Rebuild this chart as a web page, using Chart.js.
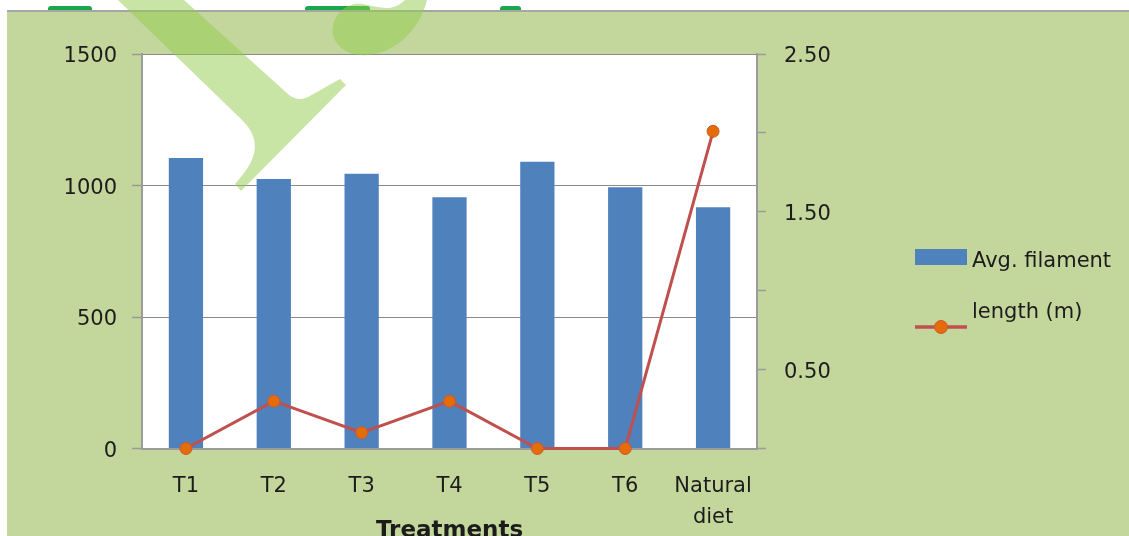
<!DOCTYPE html>
<html>
<head>
<meta charset="utf-8">
<script src="https://cdn.jsdelivr.net/npm/chart.js@4.4.1/dist/chart.umd.min.js"></script>
<style>
  html, body { margin: 0; padding: 0; background: #ffffff; overflow: hidden; }
  canvas { display: block; }
</style>
</head>
<body>
<canvas id="chart" width="1129" height="536"></canvas>
<script>
// ---- data ----
const categories = ['T1', 'T2', 'T3', 'T4', 'T5', 'T6', ['Natural', 'diet']];
const avgFilament = [1105, 1025, 1045, 955, 1090, 993, 917];
const filamentLength = [0, 0.30, 0.10, 0.30, 0, 0, 2.01];
const leftTicks = [0, 500, 1000, 1500];
const rightTickLabels = [0.5, 1.5, 2.5];
const seriesNames = ['Avg. filament', 'length (m)'];
const axisTitle = 'Treatments';

// ---- style ----
const FONT = 'DejaVu Sans';
const TEXT = '#1c1c1c';
const AXIS = '#9b9b9b';
const GRID = '#8a8a8a';
const PANEL = '#c3d69b';
const BAR = '#4f81bd';
const LINE = '#c0504d';
const MARKER = '#e46c0a';

// page frame, green panel and white plot area
const framePlugin = {
  id: 'frame',
  beforeDraw(chart) {
    const { ctx, width: W, height: H, chartArea: a } = chart;
    ctx.save();
    ctx.fillStyle = '#ffffff';
    ctx.fillRect(0, 0, W, H);
    // green highlight marks of the caption line above the panel
    ctx.fillStyle = '#1aa64a';
    [[48, 92], [305, 370], [500, 521]].forEach(([x0, x1]) => {
      ctx.beginPath();
      ctx.roundRect(x0, 6, x1 - x0, 6, [3, 3, 0, 0]);
      ctx.fill();
    });
    ctx.fillStyle = PANEL;
    ctx.fillRect(7, 12, W - 7, H - 12);
    ctx.fillStyle = '#a6a6a6';
    ctx.fillRect(7, 10, W - 7, 2);
    ctx.fillStyle = '#ffffff';
    ctx.fillRect(a.left, a.top, a.width, a.height);
    ctx.restore();
  }
};

// legend at the right of the panel
const legendPlugin = {
  id: 'sideLegend',
  afterDraw(chart) {
    const ctx = chart.ctx;
    const bars = chart.data.datasets[0];
    const line = chart.data.datasets[1];
    ctx.save();
    ctx.fillStyle = bars.backgroundColor;
    ctx.fillRect(915, 249, 52, 16);
    ctx.font = `21px "${FONT}"`;
    ctx.fillStyle = TEXT;
    ctx.textBaseline = 'alphabetic';
    ctx.textAlign = 'left';
    ctx.fillText(bars.label, 972, 267);
    ctx.fillText(line.label, 972, 318);
    ctx.strokeStyle = line.borderColor;
    ctx.lineWidth = 3.5;
    ctx.beginPath();
    ctx.moveTo(915, 327);
    ctx.lineTo(967, 327);
    ctx.stroke();
    ctx.beginPath();
    ctx.arc(941, 327, 6.5, 0, Math.PI * 2);
    ctx.fillStyle = line.pointBackgroundColor;
    ctx.fill();
    ctx.lineWidth = 1;
    ctx.strokeStyle = line.pointBorderColor;
    ctx.stroke();
    ctx.restore();
  }
};

// translucent publisher mark over the upper left of the page
const markPlugin = {
  id: 'pageMark',
  afterDraw(chart) {
    const ctx = chart.ctx;
    ctx.save();
    ctx.fillStyle = 'rgba(146, 204, 78, 0.5)';
    ctx.beginPath();
    ctx.moveTo(118, 0);
    ctx.lineTo(184, 0);
    ctx.lineTo(289, 95);
    ctx.quadraticCurveTo(298, 102, 308, 97);
    ctx.lineTo(340, 79);
    ctx.lineTo(346, 85);
    ctx.lineTo(241, 191);
    ctx.lineTo(235, 184);
    ctx.bezierCurveTo(254, 163, 266, 142, 240, 118);
    ctx.closePath();
    ctx.fill();
    ctx.beginPath();
    ctx.moveTo(405, 0);
    ctx.lineTo(427, 0);
    ctx.bezierCurveTo(420, 28, 398, 52, 368, 55);
    ctx.bezierCurveTo(345, 57, 330, 42, 333, 26);
    ctx.bezierCurveTo(336, 10, 350, 2, 363, 4);
    ctx.bezierCurveTo(378, 7, 392, 13, 405, 0);
    ctx.closePath();
    ctx.fill();
    ctx.restore();
  }
};

const tickFont = { family: FONT, size: 21, lineHeight: 1.5 };

new Chart(document.getElementById('chart'), {
  data: {
    labels: categories,
    datasets: [
      {
        type: 'bar',
        label: seriesNames[0],
        data: avgFilament,
        yAxisID: 'y',
        backgroundColor: BAR,
        borderWidth: 0,
        barPercentage: 0.39,
        categoryPercentage: 1,
        order: 2
      },
      {
        type: 'line',
        label: seriesNames[1],
        data: filamentLength,
        yAxisID: 'y2',
        borderColor: LINE,
        borderWidth: 3,
        tension: 0,
        pointRadius: 6,
        pointBackgroundColor: MARKER,
        pointBorderColor: '#cc5a2a',
        pointBorderWidth: 1,
        clip: false,
        order: 1
      }
    ]
  },
  options: {
    responsive: false,
    animation: false,
    events: [],
    layout: { padding: { top: 54, left: 0, right: 0, bottom: 0 } },
    plugins: { legend: { display: false }, tooltip: { enabled: false } },
    scales: {
      x: {
        grid: { display: false, drawTicks: false },
        border: { display: true, color: AXIS, width: 2 },
        ticks: { font: tickFont, color: TEXT, padding: 22, maxRotation: 0, autoSkip: false },
        title: {
          display: true,
          text: axisTitle,
          color: TEXT,
          font: { family: FONT, size: 23, weight: 'bold', lineHeight: 1.2 },
          padding: { top: 0, bottom: -9 }
        },
        afterFit(s) { s.height = 87.5; }
      },
      y: {
        position: 'left',
        min: 0,
        max: 1500,
        afterBuildTicks(s) { s.ticks = leftTicks.map(v => ({ value: v })); },
        ticks: { font: tickFont, color: TEXT, padding: 15, labelOffset: 3, callback: v => String(v) },
        grid: { color: GRID, lineWidth: 1, tickLength: 10, tickColor: AXIS, tickWidth: 1.5 },
        border: { color: AXIS, width: 2 },
        afterFit(s) { s.width = 142; }
      },
      y2: {
        position: 'right',
        min: 0,
        max: 2.5,
        ticks: {
          stepSize: 0.5,
          font: tickFont,
          color: TEXT,
          padding: 18,
          labelOffset: 3,
          callback(v) {
            return rightTickLabels.some(t => Math.abs(t - v) < 1e-9) ? Number(v).toFixed(2) : '';
          }
        },
        grid: { drawOnChartArea: false, tickLength: 9, tickColor: AXIS, tickWidth: 1.5 },
        border: { color: AXIS, width: 2 },
        afterFit(s) { s.width = 372; }
      }
    }
  },
  plugins: [framePlugin, legendPlugin, markPlugin]
});
</script>
</body>
</html>
